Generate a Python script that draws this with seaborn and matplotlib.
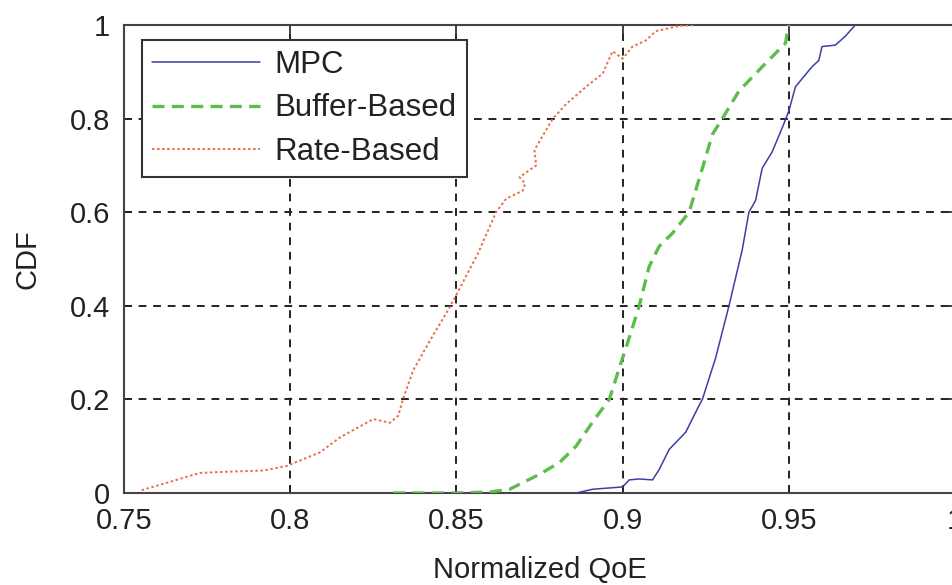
import matplotlib
matplotlib.use("Agg")
import matplotlib.pyplot as plt
import seaborn as sns
import pandas as pd

# Data
mpc_x = [0.886, 0.891, 0.900, 0.902, 0.905, 0.909, 0.911, 0.914, 0.919, 0.923, 0.924, 0.928, 0.932,
         0.936, 0.938, 0.940, 0.942, 0.945, 0.948, 0.950, 0.952, 0.957, 0.959, 0.960, 0.964, 0.967, 0.970]
mpc_y = [0.000, 0.008, 0.013, 0.028, 0.030, 0.028, 0.050, 0.093, 0.130, 0.187, 0.200, 0.289, 0.400,
         0.520, 0.600, 0.625, 0.694, 0.729, 0.780, 0.816, 0.868, 0.911, 0.924, 0.954, 0.957, 0.976, 1.000]

buf_x = [0.831, 0.850, 0.860, 0.866, 0.875, 0.881, 0.886, 0.891, 0.896, 0.899, 0.901, 0.903, 0.905,
         0.908, 0.911, 0.915, 0.920, 0.924, 0.927, 0.930, 0.935, 0.943, 0.949, 0.950]
buf_y = [0.000, 0.000, 0.002, 0.008, 0.040, 0.065, 0.100, 0.152, 0.200, 0.267, 0.310, 0.354, 0.400,
         0.484, 0.527, 0.555, 0.600, 0.694, 0.766, 0.800, 0.859, 0.918, 0.961, 1.000]

rate_x = [0.7553, 0.7729, 0.783, 0.792, 0.799, 0.809, 0.815, 0.825, 0.830, 0.8325, 0.834, 0.837, 0.842,
          0.848, 0.8565, 0.862, 0.865, 0.870, 0.8707, 0.869, 0.874, 0.8735, 0.879, 0.883, 0.889, 0.894,
          0.897, 0.898, 0.900, 0.903, 0.907, 0.910, 0.917, 0.922]
rate_y = [0.006, 0.043, 0.046, 0.048, 0.058, 0.087, 0.119, 0.158, 0.150, 0.165, 0.202, 0.262, 0.325,
          0.397, 0.512, 0.601, 0.629, 0.646, 0.661, 0.675, 0.700, 0.733, 0.800, 0.831, 0.868, 0.896,
          0.944, 0.939, 0.928, 0.954, 0.967, 0.987, 0.998, 1.000]

x_ticks = [0.75, 0.8, 0.85, 0.9, 0.95, 1.0]
x_tick_labels = ["0.75", "0.8", "0.85", "0.9", "0.95", "1"]
y_ticks = [0, 0.2, 0.4, 0.6, 0.8, 1.0]
y_tick_labels = ["0", "0.2", "0.4", "0.6", "0.8", "1"]

sns.set_style("ticks")
plt.rcParams["font.family"] = ["Liberation Sans", "DejaVu Sans"]

fig = plt.figure(figsize=(9.52, 5.85), dpi=100)
ax = fig.add_axes([124 / 952, 1 - 493 / 585, (955 - 124) / 952, (493 - 25) / 585])

df_mpc = pd.DataFrame({"x": mpc_x, "y": mpc_y})
df_buf = pd.DataFrame({"x": buf_x, "y": buf_y})
df_rate = pd.DataFrame({"x": rate_x, "y": rate_y})

sns.lineplot(data=df_mpc, x="x", y="y", ax=ax, sort=False, color="#3b3fa6",
             linewidth=1.1, estimator=None, label="MPC", zorder=4)
sns.lineplot(data=df_buf, x="x", y="y", ax=ax, sort=False, color="#5cbd4c",
             linewidth=2.4, estimator=None, label="Buffer-Based", zorder=4)
sns.lineplot(data=df_rate, x="x", y="y", ax=ax, sort=False, color="#e8704a",
             linewidth=1.4, estimator=None, label="Rate-Based", zorder=4)

lines = ax.get_lines()
lines[1].set_linestyle((0, (3.6, 2.2)))
lines[2].set_linestyle((0, (1.3, 1.3)))

ax.set_xlim(0.75, 1.0)
ax.set_ylim(0, 1.0)
ax.set_xticks(x_ticks)
ax.set_xticklabels(x_tick_labels)
ax.set_yticks(y_ticks)
ax.set_yticklabels(y_tick_labels)
ax.tick_params(direction="in", top=True, right=True, length=6, width=1.2,
               labelsize=21, colors="#222222", pad=10)
ax.grid(True, color="#222222", linestyle=(0, (4, 3.5)), linewidth=1.4)
for sp in ax.spines.values():
    sp.set_color("#444444")
    sp.set_linewidth(1.5)

ax.set_xlabel("Normalized QoE", fontsize=21, color="#222222", labelpad=15)
ax.set_ylabel("CDF", fontsize=21, color="#222222", labelpad=20)

leg = ax.legend(loc="upper left", bbox_to_anchor=(18 / 831, 1 - 15 / 468), fontsize=22.5,
                frameon=True, fancybox=False, framealpha=1, edgecolor="#333333",
                handlelength=3.45, handletextpad=0.45, borderpad=0.33, labelspacing=0.42,
                borderaxespad=0)
leg.get_frame().set_linewidth(1.5)
leg.set_zorder(6)
for t in leg.get_texts():
    t.set_color("#222222")

fig.savefig("out.png", dpi=100)
